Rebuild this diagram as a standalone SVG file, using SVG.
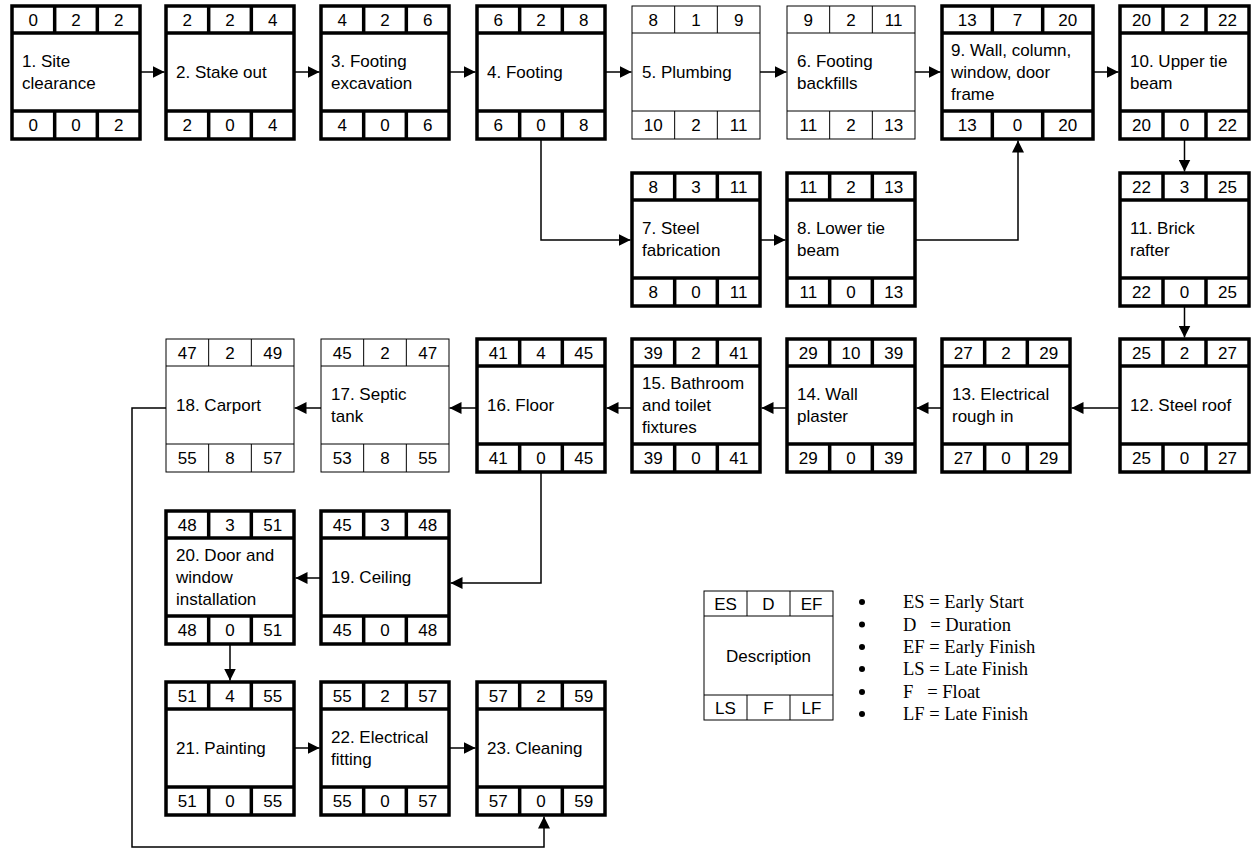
<svg xmlns="http://www.w3.org/2000/svg" width="1251" height="849" viewBox="0 0 1251 849">
<style>
.thick rect, .thick path{fill:none;stroke:#000;stroke-width:3.5}
.thin rect, .thin path{fill:none;stroke:#000;stroke-width:1}
text{font-family:"Liberation Sans",Arial,sans-serif;font-size:17px;fill:#000}
.c{text-anchor:middle}
.lg{font-family:"Liberation Serif","Times New Roman",serif;font-size:18.5px;white-space:pre}
#connectors path{fill:none;stroke:#000;stroke-width:1.5}
</style>
<defs>
<marker id="ah" viewBox="0 0 12 12" refX="12" refY="6" markerWidth="12" markerHeight="12" markerUnits="userSpaceOnUse" orient="auto"><path d="M0,0L12,6L0,12z" fill="#000"/></marker>
</defs>
<rect width="1251" height="849" fill="#fff"/>

<!-- Row 1 -->
<g id="n1" class="thick"><rect x="12" y="6" width="128" height="133"/><path d="M12,33H140M12,111H140M54.67,6V33M97.33,6V33M54.67,111V139M97.33,111V139"/>
<text class="c" x="33.3" y="26">0</text><text class="c" x="76" y="26">2</text><text class="c" x="118.7" y="26">2</text>
<text x="22" y="67">1. Site</text><text x="22" y="89">clearance</text>
<text class="c" x="33.3" y="131">0</text><text class="c" x="76" y="131">0</text><text class="c" x="118.7" y="131">2</text></g>

<g id="n2" class="thick"><rect x="166" y="6" width="128" height="133"/><path d="M166,33H294M166,111H294M208.67,6V33M251.33,6V33M208.67,111V139M251.33,111V139"/>
<text class="c" x="187.3" y="26">2</text><text class="c" x="230" y="26">2</text><text class="c" x="272.7" y="26">4</text>
<text x="176" y="78">2. Stake out</text>
<text class="c" x="187.3" y="131">2</text><text class="c" x="230" y="131">0</text><text class="c" x="272.7" y="131">4</text></g>

<g id="n3" class="thick"><rect x="321" y="6" width="128" height="133"/><path d="M321,33H449M321,111H449M363.67,6V33M406.33,6V33M363.67,111V139M406.33,111V139"/>
<text class="c" x="342.3" y="26">4</text><text class="c" x="385" y="26">2</text><text class="c" x="427.7" y="26">6</text>
<text x="331" y="67">3. Footing</text><text x="331" y="89">excavation</text>
<text class="c" x="342.3" y="131">4</text><text class="c" x="385" y="131">0</text><text class="c" x="427.7" y="131">6</text></g>

<g id="n4" class="thick"><rect x="477" y="6" width="128" height="133"/><path d="M477,33H605M477,111H605M519.67,6V33M562.33,6V33M519.67,111V139M562.33,111V139"/>
<text class="c" x="498.3" y="26">6</text><text class="c" x="541" y="26">2</text><text class="c" x="583.7" y="26">8</text>
<text x="487" y="78">4. Footing</text>
<text class="c" x="498.3" y="131">6</text><text class="c" x="541" y="131">0</text><text class="c" x="583.7" y="131">8</text></g>

<g id="n5" class="thin"><rect x="632" y="6" width="128" height="133"/><path d="M632,33H760M632,111H760M674.67,6V33M717.33,6V33M674.67,111V139M717.33,111V139"/>
<text class="c" x="653.3" y="26">8</text><text class="c" x="696" y="26">1</text><text class="c" x="738.7" y="26">9</text>
<text x="642" y="78">5. Plumbing</text>
<text class="c" x="653.3" y="131">10</text><text class="c" x="696" y="131">2</text><text class="c" x="738.7" y="131">11</text></g>

<g id="n6" class="thin"><rect x="787" y="6" width="128" height="133"/><path d="M787,33H915M787,111H915M829.67,6V33M872.33,6V33M829.67,111V139M872.33,111V139"/>
<text class="c" x="808.3" y="26">9</text><text class="c" x="851" y="26">2</text><text class="c" x="893.7" y="26">11</text>
<text x="797" y="67">6. Footing</text><text x="797" y="89">backfills</text>
<text class="c" x="808.3" y="131">11</text><text class="c" x="851" y="131">2</text><text class="c" x="893.7" y="131">13</text></g>

<g id="n9" class="thick"><rect x="942" y="6" width="151" height="133"/><path d="M942,33H1093M942,111H1093M992.33,6V33M1042.67,6V33M992.33,111V139M1042.67,111V139"/>
<text class="c" x="967.2" y="26">13</text><text class="c" x="1017.5" y="26">7</text><text class="c" x="1067.8" y="26">20</text>
<text x="951" y="56">9. Wall, column,</text><text x="951" y="78">window, door</text><text x="951" y="100">frame</text>
<text class="c" x="967.2" y="131">13</text><text class="c" x="1017.5" y="131">0</text><text class="c" x="1067.8" y="131">20</text></g>

<g id="n10" class="thick"><rect x="1120" y="6" width="129" height="133"/><path d="M1120,33H1249M1120,111H1249M1163,6V33M1206,6V33M1163,111V139M1206,111V139"/>
<text class="c" x="1141.5" y="26">20</text><text class="c" x="1184.5" y="26">2</text><text class="c" x="1227.5" y="26">22</text>
<text x="1130" y="67">10. Upper tie</text><text x="1130" y="89">beam</text>
<text class="c" x="1141.5" y="131">20</text><text class="c" x="1184.5" y="131">0</text><text class="c" x="1227.5" y="131">22</text></g>

<!-- Row 2 -->
<g id="n7" class="thick"><rect x="632" y="173" width="128" height="133"/><path d="M632,200H760M632,278H760M674.67,173V200M717.33,173V200M674.67,278V306M717.33,278V306"/>
<text class="c" x="653.3" y="193">8</text><text class="c" x="696" y="193">3</text><text class="c" x="738.7" y="193">11</text>
<text x="642" y="234">7. Steel</text><text x="642" y="256">fabrication</text>
<text class="c" x="653.3" y="298">8</text><text class="c" x="696" y="298">0</text><text class="c" x="738.7" y="298">11</text></g>

<g id="n8" class="thick"><rect x="787" y="173" width="128" height="133"/><path d="M787,200H915M787,278H915M829.67,173V200M872.33,173V200M829.67,278V306M872.33,278V306"/>
<text class="c" x="808.3" y="193">11</text><text class="c" x="851" y="193">2</text><text class="c" x="893.7" y="193">13</text>
<text x="797" y="234">8. Lower tie</text><text x="797" y="256">beam</text>
<text class="c" x="808.3" y="298">11</text><text class="c" x="851" y="298">0</text><text class="c" x="893.7" y="298">13</text></g>

<g id="n11" class="thick"><rect x="1120" y="173" width="129" height="133"/><path d="M1120,200H1249M1120,278H1249M1163,173V200M1206,173V200M1163,278V306M1206,278V306"/>
<text class="c" x="1141.5" y="193">22</text><text class="c" x="1184.5" y="193">3</text><text class="c" x="1227.5" y="193">25</text>
<text x="1130" y="234">11. Brick</text><text x="1130" y="256">rafter</text>
<text class="c" x="1141.5" y="298">22</text><text class="c" x="1184.5" y="298">0</text><text class="c" x="1227.5" y="298">25</text></g>

<!-- Row 3 -->
<g id="n12" class="thick"><rect x="1120" y="339" width="129" height="133"/><path d="M1120,366H1249M1120,444H1249M1163,339V366M1206,339V366M1163,444V472M1206,444V472"/>
<text class="c" x="1141.5" y="359">25</text><text class="c" x="1184.5" y="359">2</text><text class="c" x="1227.5" y="359">27</text>
<text x="1130" y="411">12. Steel roof</text>
<text class="c" x="1141.5" y="464">25</text><text class="c" x="1184.5" y="464">0</text><text class="c" x="1227.5" y="464">27</text></g>

<g id="n13" class="thick"><rect x="942" y="339" width="128" height="133"/><path d="M942,366H1070M942,444H1070M984.67,339V366M1027.33,339V366M984.67,444V472M1027.33,444V472"/>
<text class="c" x="963.3" y="359">27</text><text class="c" x="1006" y="359">2</text><text class="c" x="1048.7" y="359">29</text>
<text x="952" y="400">13. Electrical</text><text x="952" y="422">rough in</text>
<text class="c" x="963.3" y="464">27</text><text class="c" x="1006" y="464">0</text><text class="c" x="1048.7" y="464">29</text></g>

<g id="n14" class="thick"><rect x="787" y="339" width="128" height="133"/><path d="M787,366H915M787,444H915M829.67,339V366M872.33,339V366M829.67,444V472M872.33,444V472"/>
<text class="c" x="808.3" y="359">29</text><text class="c" x="851" y="359">10</text><text class="c" x="893.7" y="359">39</text>
<text x="797" y="400">14. Wall</text><text x="797" y="422">plaster</text>
<text class="c" x="808.3" y="464">29</text><text class="c" x="851" y="464">0</text><text class="c" x="893.7" y="464">39</text></g>

<g id="n15" class="thick"><rect x="632" y="339" width="128" height="133"/><path d="M632,366H760M632,444H760M674.67,339V366M717.33,339V366M674.67,444V472M717.33,444V472"/>
<text class="c" x="653.3" y="359">39</text><text class="c" x="696" y="359">2</text><text class="c" x="738.7" y="359">41</text>
<text x="642" y="389">15. Bathroom</text><text x="642" y="411">and toilet</text><text x="642" y="433">fixtures</text>
<text class="c" x="653.3" y="464">39</text><text class="c" x="696" y="464">0</text><text class="c" x="738.7" y="464">41</text></g>

<g id="n16" class="thick"><rect x="477" y="339" width="128" height="133"/><path d="M477,366H605M477,444H605M519.67,339V366M562.33,339V366M519.67,444V472M562.33,444V472"/>
<text class="c" x="498.3" y="359">41</text><text class="c" x="541" y="359">4</text><text class="c" x="583.7" y="359">45</text>
<text x="487" y="411">16. Floor</text>
<text class="c" x="498.3" y="464">41</text><text class="c" x="541" y="464">0</text><text class="c" x="583.7" y="464">45</text></g>

<g id="n17" class="thin"><rect x="321" y="339" width="128" height="133"/><path d="M321,366H449M321,444H449M363.67,339V366M406.33,339V366M363.67,444V472M406.33,444V472"/>
<text class="c" x="342.3" y="359">45</text><text class="c" x="385" y="359">2</text><text class="c" x="427.7" y="359">47</text>
<text x="331" y="400">17. Septic</text><text x="331" y="422">tank</text>
<text class="c" x="342.3" y="464">53</text><text class="c" x="385" y="464">8</text><text class="c" x="427.7" y="464">55</text></g>

<g id="n18" class="thin"><rect x="166" y="339" width="128" height="133"/><path d="M166,366H294M166,444H294M208.67,339V366M251.33,339V366M208.67,444V472M251.33,444V472"/>
<text class="c" x="187.3" y="359">47</text><text class="c" x="230" y="359">2</text><text class="c" x="272.7" y="359">49</text>
<text x="176" y="411">18. Carport</text>
<text class="c" x="187.3" y="464">55</text><text class="c" x="230" y="464">8</text><text class="c" x="272.7" y="464">57</text></g>

<!-- Row 4 -->
<g id="n19" class="thick"><rect x="321" y="511" width="128" height="133"/><path d="M321,538H449M321,616H449M363.67,511V538M406.33,511V538M363.67,616V644M406.33,616V644"/>
<text class="c" x="342.3" y="531">45</text><text class="c" x="385" y="531">3</text><text class="c" x="427.7" y="531">48</text>
<text x="331" y="583">19. Ceiling</text>
<text class="c" x="342.3" y="636">45</text><text class="c" x="385" y="636">0</text><text class="c" x="427.7" y="636">48</text></g>

<g id="n20" class="thick"><rect x="166" y="511" width="128" height="133"/><path d="M166,538H294M166,616H294M208.67,511V538M251.33,511V538M208.67,616V644M251.33,616V644"/>
<text class="c" x="187.3" y="531">48</text><text class="c" x="230" y="531">3</text><text class="c" x="272.7" y="531">51</text>
<text x="176" y="561">20. Door and</text><text x="176" y="583">window</text><text x="176" y="605">installation</text>
<text class="c" x="187.3" y="636">48</text><text class="c" x="230" y="636">0</text><text class="c" x="272.7" y="636">51</text></g>

<!-- Row 5 -->
<g id="n21" class="thick"><rect x="166" y="682" width="128" height="133"/><path d="M166,709H294M166,787H294M208.67,682V709M251.33,682V709M208.67,787V815M251.33,787V815"/>
<text class="c" x="187.3" y="702">51</text><text class="c" x="230" y="702">4</text><text class="c" x="272.7" y="702">55</text>
<text x="176" y="754">21. Painting</text>
<text class="c" x="187.3" y="807">51</text><text class="c" x="230" y="807">0</text><text class="c" x="272.7" y="807">55</text></g>

<g id="n22" class="thick"><rect x="321" y="682" width="128" height="133"/><path d="M321,709H449M321,787H449M363.67,682V709M406.33,682V709M363.67,787V815M406.33,787V815"/>
<text class="c" x="342.3" y="702">55</text><text class="c" x="385" y="702">2</text><text class="c" x="427.7" y="702">57</text>
<text x="331" y="743">22. Electrical</text><text x="331" y="765">fitting</text>
<text class="c" x="342.3" y="807">55</text><text class="c" x="385" y="807">0</text><text class="c" x="427.7" y="807">57</text></g>

<g id="n23" class="thick"><rect x="477" y="682" width="128" height="133"/><path d="M477,709H605M477,787H605M519.67,682V709M562.33,682V709M519.67,787V815M562.33,787V815"/>
<text class="c" x="498.3" y="702">57</text><text class="c" x="541" y="702">2</text><text class="c" x="583.7" y="702">59</text>
<text x="487" y="754">23. Cleaning</text>
<text class="c" x="498.3" y="807">57</text><text class="c" x="541" y="807">0</text><text class="c" x="583.7" y="807">59</text></g>

<!-- Legend -->
<g id="legend-box" class="thin"><rect x="704" y="591" width="129" height="129"/><path d="M704,616H833M704,695H833M747,591V616M790,591V616M747,695V720M790,695V720"/>
<text class="c" x="725.5" y="610">ES</text><text class="c" x="768.5" y="610">D</text><text class="c" x="811.5" y="610">EF</text>
<text class="c" x="768.5" y="662">Description</text>
<text class="c" x="725.5" y="714">LS</text><text class="c" x="768.5" y="714">F</text><text class="c" x="811.5" y="714">LF</text></g>

<g id="legend-text">
<circle cx="862" cy="602" r="3"/><text class="lg" x="903" y="608">ES = Early Start</text>
<circle cx="862" cy="624.5" r="3"/><text class="lg" x="903" y="630.5">D   = Duration</text>
<circle cx="862" cy="647" r="3"/><text class="lg" x="903" y="653">EF = Early Finish</text>
<circle cx="862" cy="669" r="3"/><text class="lg" x="903" y="675">LS = Late Finish</text>
<circle cx="862" cy="692" r="3"/><text class="lg" x="903" y="698">F   = Float</text>
<circle cx="862" cy="714" r="3"/><text class="lg" x="903" y="720">LF = Late Finish</text>
</g>

<g id="connectors">
<path d="M140,72H164.5" marker-end="url(#ah)"/>
<path d="M294,72H319.5" marker-end="url(#ah)"/>
<path d="M449,72H475.5" marker-end="url(#ah)"/>
<path d="M605,72H631.5" marker-end="url(#ah)"/>
<path d="M760,72H786.5" marker-end="url(#ah)"/>
<path d="M915,72H940.5" marker-end="url(#ah)"/>
<path d="M1093,72H1118.5" marker-end="url(#ah)"/>
<path d="M541,139V240H630.5" marker-end="url(#ah)"/>
<path d="M760,240H785.5" marker-end="url(#ah)"/>
<path d="M915,240H1018V140.5" marker-end="url(#ah)"/>
<path d="M1184.5,139V171.5" marker-end="url(#ah)"/>
<path d="M1184.5,306V337.5" marker-end="url(#ah)"/>
<path d="M1120,408H1071.5" marker-end="url(#ah)"/>
<path d="M942,408H916.5" marker-end="url(#ah)"/>
<path d="M787,408H761.5" marker-end="url(#ah)"/>
<path d="M632,408H606.5" marker-end="url(#ah)"/>
<path d="M477,408H449.5" marker-end="url(#ah)"/>
<path d="M321,408H294.5" marker-end="url(#ah)"/>
<path d="M541,472V583H450.5" marker-end="url(#ah)"/>
<path d="M321,578H295.5" marker-end="url(#ah)"/>
<path d="M230,644V680.5" marker-end="url(#ah)"/>
<path d="M294,748H319.5" marker-end="url(#ah)"/>
<path d="M449,748H475.5" marker-end="url(#ah)"/>
<path d="M166,408H132V847H544V816.5" marker-end="url(#ah)"/>
</g>
</svg>
